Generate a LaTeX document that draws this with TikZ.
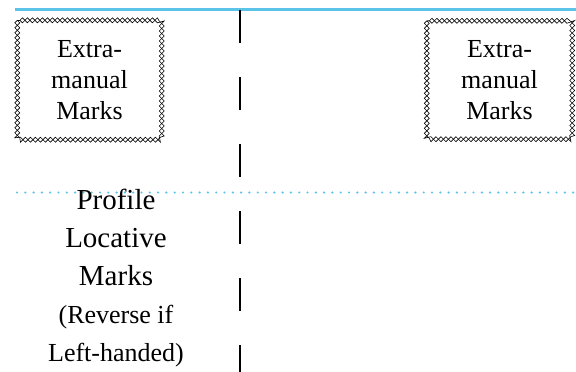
\documentclass[tikz,border=0pt]{standalone}
\usepackage{fontspec}
\setmainfont{Liberation Serif}
\usetikzlibrary{decorations.pathmorphing,positioning}
\definecolor{skyline}{HTML}{5BC3E8}
\tikzset{
  boxtext/.style={align=center,inner sep=0pt,font=\fontsize{26}{31}\selectfont},
  locative/.style={align=center,inner sep=0pt,font=\fontsize{29}{38}\selectfont},
  zig/.style={draw=black,line width=0.6pt,decorate,decoration={zigzag,segment length=10pt,amplitude=2.5pt}},
  zagmirror/.style={zig,decoration={mirror}},
  midline/.style={black,line width=2pt,dash pattern=on 33pt off 34pt},
  topline/.style={skyline,line width=2.2pt},
  dotline/.style={skyline,line width=2.4pt,line cap=round,dash pattern=on 0pt off 8.3pt}
}
\begin{document}
\begin{tikzpicture}[x=1pt,y=-1pt]
  \useasboundingbox (0,0) rectangle (576,372);
  % guide lines
  \coordinate (topL) at (15,9.5);
  \coordinate (topR) at (576,9.5);
  \coordinate (dotL) at (17,192.5);
  \coordinate (dotR) at (576,192.5);
  \coordinate (midT) at (239.5,10);
  \coordinate (midB) at (239.5,372);
  \draw[topline] (topL) -- (topR);
  \draw[dotline] (dotL) -- (dotR);
  \draw[midline] (midT) -- (midB);
  % extra-manual marks
  \node[boxtext,minimum width=144pt,minimum height=119pt] (markL) at (89.5,80) {Extra-\\manual\\Marks};
  \node[boxtext,minimum width=145pt,minimum height=118pt] (markR) at (499.5,80) {Extra-\\manual\\Marks};
  \foreach \b in {markL,markR}{
    \draw[zig] (\b.north west) rectangle (\b.south east);
    \draw[zagmirror] (\b.north west) rectangle (\b.south east);
  }
  % profile
  \node[locative] (profile) at (116,278) {Profile\\Locative\\Marks\\{\fontsize{26}{35}\selectfont (Reverse if}\\{\fontsize{26}{34}\selectfont Left-handed)}};
\end{tikzpicture}
\end{document}
